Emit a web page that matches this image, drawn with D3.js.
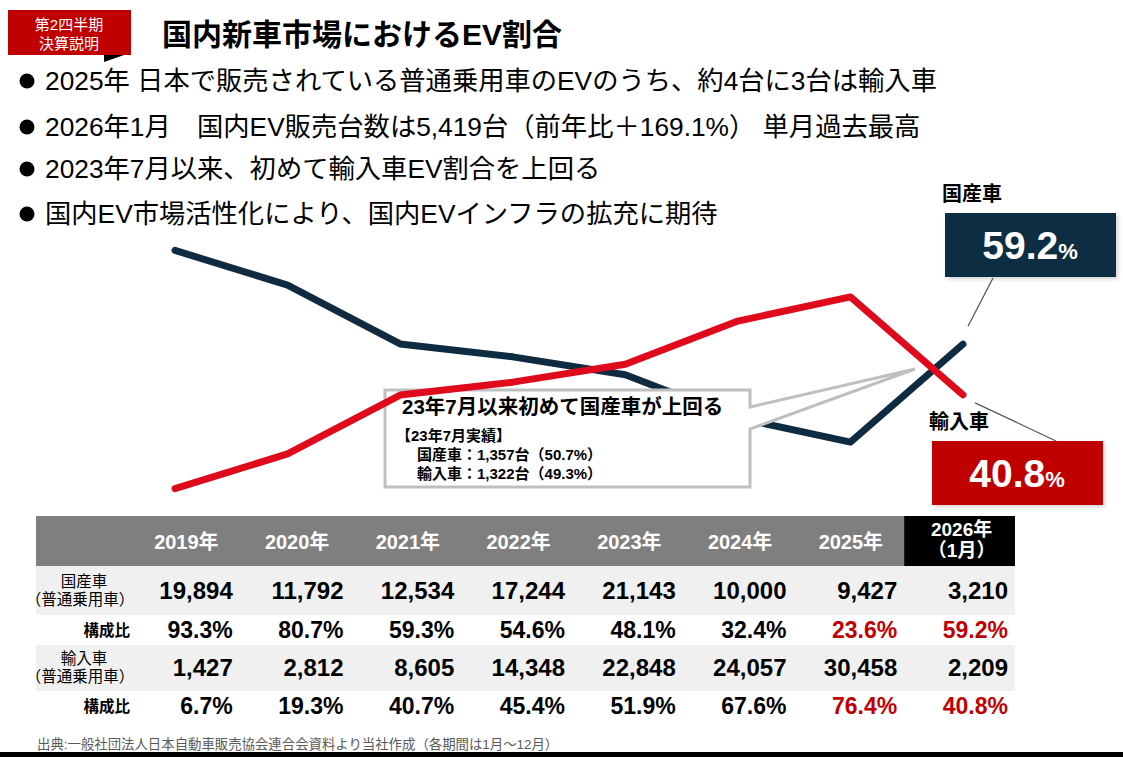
<!DOCTYPE html>
<html lang="ja">
<head>
<meta charset="utf-8">
<title>国内新車市場におけるEV割合</title>
<script src="https://cdn.jsdelivr.net/npm/d3@7"></script>
<style>
  body { margin: 0; background: #fff; }
  svg { display: block; font-family: "Liberation Sans", Arial, "Noto Sans CJK JP", sans-serif; }
</style>
</head>
<body>
<svg id="chart"></svg>
<script>
// data
const periods = ['2019', '2020', '2021', '2022', '2023', '2024', '2025', '2026-01'];
const headerLabels = [['2019年'], ['2020年'], ['2021年'], ['2022年'], ['2023年'], ['2024年'], ['2025年'], ['2026年', '（1月）']];
const domesticUnits = [19894, 11792, 12534, 17244, 21143, 10000, 9427, 3210];
const domesticShare = [93.3, 80.7, 59.3, 54.6, 48.1, 32.4, 23.6, 59.2];
const importUnits = [1427, 2812, 8605, 14348, 22848, 24057, 30458, 2209];
const importShare = [6.7, 19.3, 40.7, 45.4, 51.9, 67.6, 76.4, 40.8];
const highlightPeriods = ['2025', '2026-01'];

const bullets = [
  '2025年 日本で販売されている普通乗用車のEVのうち、約4台に3台は輸入車',
  '2026年1月　国内EV販売台数は5,419台（前年比＋169.1%） 単月過去最高',
  '2023年7月以来、初めて輸入車EV割合を上回る',
  '国内EV市場活性化により、国内EVインフラの拡充に期待'
];
const calloutLines = ['【23年7月実績】', '国産車：1,357台（50.7%）', '輸入車：1,322台（49.3%）'];

const W = 1123, H = 757;
const NAVY = '#0e2b41', RED = '#e00a1d', DARKRED = '#c00000';

const svg = d3.select('#chart').attr('width', W).attr('height', H);

// soft shadow for the value boxes
const defs = svg.append('defs');
const f = defs.append('filter').attr('id', 'shadow').attr('x', '-10%').attr('y', '-10%').attr('width', '130%').attr('height', '140%');
f.append('feDropShadow').attr('dx', 2).attr('dy', 2).attr('stdDeviation', 2).attr('flood-color', '#000').attr('flood-opacity', 0.18);

// header badge + title
svg.append('rect').attr('x', 8).attr('y', 10).attr('width', 123).attr('height', 45).attr('fill', DARKRED);
svg.append('path').attr('d', 'M104,55 L124,55 L104,62 Z').attr('fill', '#000');
svg.append('text').attr('x', 69).attr('y', 30).attr('text-anchor', 'middle')
  .attr('fill', '#fff').style('font-size', '15px').text('第2四半期');
svg.append('text').attr('x', 69).attr('y', 49).attr('text-anchor', 'middle')
  .attr('fill', '#fff').style('font-size', '15px').text('決算説明');
svg.append('text').attr('x', 162).attr('y', 45)
  .style('font-size', '30px').style('font-weight', 'bold').text('国内新車市場におけるEV割合');

// bullet list
const bulletY = [90, 136, 178, 223];
const bl = svg.append('g').selectAll('g').data(bullets).join('g')
  .attr('transform', (d, i) => `translate(0, ${bulletY[i]})`);
bl.append('circle').attr('cx', 27).attr('cy', -9).attr('r', 7.5).attr('fill', '#000');
bl.append('text').attr('x', 45).style('font-size', '26.3px').text(d => d);

// line chart (share %)
const x = d3.scalePoint().domain(periods).range([175, 963]);
const y = d3.scaleLinear().domain([0, 100]).range([507, 232]);
const line = d3.line().x(d => x(d.p)).y(d => y(d.v));

const series = [
  { name: 'domestic', color: NAVY, values: periods.map((p, i) => ({ p, v: domesticShare[i] })) },
  { name: 'import', color: RED, values: periods.map((p, i) => ({ p, v: importShare[i] })) }
];

// navy line first, then the callout over it, then the red line on top
svg.append('path')
  .attr('d', line(series[0].values))
  .attr('fill', 'none').attr('stroke', series[0].color).attr('stroke-width', 7)
  .attr('stroke-linejoin', 'round').attr('stroke-linecap', 'round');

const cb = svg.append('g');
cb.append('path')
  .attr('d', 'M385,390 L750,390 L750,407 L915,369 L750,429 L750,487 L385,487 Z')
  .attr('fill', '#fff').attr('stroke', '#bfbfbf').attr('stroke-width', 3);
cb.append('text').attr('x', 402).attr('y', 414)
  .style('font-size', '20.5px').style('font-weight', 'bold').text('23年7月以来初めて国産車が上回る');
cb.selectAll('text.sub').data(calloutLines).join('text').attr('class', 'sub')
  .attr('x', (d, i) => i === 0 ? 396 : 417)
  .attr('y', (d, i) => 441 + i * 19)
  .style('font-size', '15px').style('font-weight', 'bold').text(d => d);

svg.append('path')
  .attr('d', line(series[1].values))
  .attr('fill', 'none').attr('stroke', series[1].color).attr('stroke-width', 7)
  .attr('stroke-linejoin', 'round').attr('stroke-linecap', 'round');

// end value labels
const lastP = periods[periods.length - 1];
const lastDom = domesticShare[domesticShare.length - 1];
const lastImp = importShare[importShare.length - 1];

svg.append('line').attr('x1', 993).attr('y1', 278).attr('x2', x(lastP) + 5).attr('y2', y(lastDom) - 18)
  .attr('stroke', '#595959').attr('stroke-width', 1.3);
svg.append('line').attr('x1', x(lastP) + 12).attr('y1', y(lastImp) + 8).attr('x2', 1056).attr('y2', 441)
  .attr('stroke', '#595959').attr('stroke-width', 1.3);

function valueBox(bx, by, fill, label, val) {
  svg.append('text').attr('x', bx - 3).attr('y', by - 12)
    .style('font-size', '20px').style('font-weight', 'bold').text(label);
  svg.append('rect').attr('x', bx).attr('y', by).attr('width', 171).attr('height', 64)
    .attr('fill', fill).attr('filter', 'url(#shadow)');
  const t = svg.append('text').attr('x', bx + 85).attr('y', by + 46).attr('text-anchor', 'middle')
    .attr('fill', '#fff').style('font-weight', 'bold');
  t.append('tspan').style('font-size', '39px').text(val.toFixed(1));
  t.append('tspan').style('font-size', '22px').text('%');
}
valueBox(945, 213, '#0d2f43', '国産車', lastDom);
valueBox(932, 441, DARKRED, '輸入車', lastImp);

// table
const tableLeft = 36, tableRight = 1015, firstCol = 129;
const col = d3.scaleBand().domain(periods).range([firstCol, tableRight]);
const rows = [
  { label: ['国産車', '（普通乗用車）'], values: domesticUnits, kind: 'units', top: 566, h: 49 },
  { label: ['構成比'], values: domesticShare, kind: 'share', top: 615, h: 30 },
  { label: ['輸入車', '（普通乗用車）'], values: importUnits, kind: 'units', top: 645, h: 46 },
  { label: ['構成比'], values: importShare, kind: 'share', top: 691, h: 30 }
];

const tb = svg.append('g');
tb.append('rect').attr('x', tableLeft).attr('y', 516).attr('width', tableRight - tableLeft).attr('height', 50).attr('fill', '#7f7f7f');
tb.append('rect').attr('x', col(lastP)).attr('y', 516).attr('width', col.bandwidth()).attr('height', 50).attr('fill', '#000');

tb.selectAll('text.hdr').data(periods).join('text').attr('class', 'hdr')
  .attr('fill', '#fff').attr('text-anchor', 'middle')
  .style('font-weight', 'bold')
  .each(function (p, i) {
    const lines = headerLabels[i];
    d3.select(this).selectAll('tspan').data(lines).join('tspan')
      .attr('x', col(p) + col.bandwidth() / 2 + 2)
      .attr('y', (d, j) => lines.length === 1 ? 549 : 536 + j * 21)
      .style('font-size', lines.length === 1 ? '20px' : '19px')
      .text(d => d);
  });

const fmt = d3.format(',');
rows.forEach(r => {
  if (r.kind === 'units') {
    tb.append('rect').attr('x', tableLeft).attr('y', r.top).attr('width', tableRight - tableLeft).attr('height', r.h).attr('fill', '#f0f0f0');
  }
  const cy = r.top + r.h / 2;
  if (r.label.length === 2) {
    tb.append('text').attr('x', 84).attr('y', cy - 4).attr('text-anchor', 'middle')
      .style('font-size', '15.5px').text(r.label[0]);
    tb.append('text').attr('x', 80).attr('y', cy + 14).attr('text-anchor', 'middle')
      .style('font-size', '15.5px').text(r.label[1]);
  } else {
    tb.append('text').attr('x', 130).attr('y', cy + 6).attr('text-anchor', 'end')
      .style('font-size', '15.5px').style('font-weight', 'bold').text(r.label[0]);
  }
  tb.selectAll(null).data(periods).join('text')
    .attr('x', p => col(p) + col.bandwidth() - 7)
    .attr('y', cy + 8)
    .attr('text-anchor', 'end')
    .style('font-weight', 'bold')
    .style('font-size', r.kind === 'units' ? '24px' : '23px')
    .attr('fill', p => r.kind === 'share' && highlightPeriods.includes(p) ? DARKRED : '#000')
    .text((p, i) => r.kind === 'units' ? fmt(r.values[i]) : r.values[i].toFixed(1) + '%');
});

// source + bottom rule
svg.append('text').attr('x', 37).attr('y', 749).attr('fill', '#595959')
  .style('font-size', '13.4px').text('出典:一般社団法人日本自動車販売協会連合会資料より当社作成（各期間は1月～12月）');
svg.append('rect').attr('x', 0).attr('y', 752).attr('width', W).attr('height', 5).attr('fill', '#000');
</script>
</body>
</html>
